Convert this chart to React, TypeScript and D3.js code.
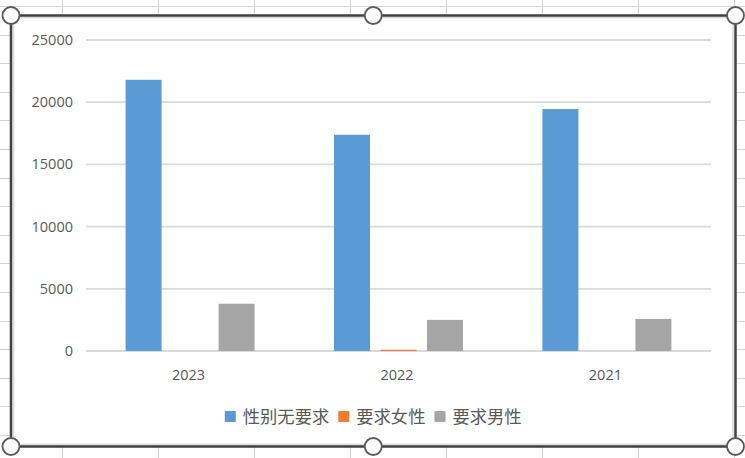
import React from "react";
import * as d3 from "d3";

const categories = ["2023", "2022", "2021"];
const seriesNames = ["性别无要求", "要求女性", "要求男性"];
const noRequirement = [21800, 17380, 19450];
const femaleRequired = [0, 100, 0];
const maleRequired = [3800, 2500, 2580];
const yTicks = [0, 5000, 10000, 15000, 20000, 25000];
const colors = ["#5B9BD5", "#ED7D31", "#A5A5A5"];

const W = 745;
const H = 458;

export default function App() {
  const series = [noRequirement, femaleRequired, maleRequired];
  const plot = { left: 86, right: 711, top: 40, bottom: 351 };

  const x0 = d3
    .scaleBand<string>()
    .domain(categories)
    .range([plot.left, plot.right])
    .paddingInner(0.381)
    .paddingOuter(0.19);
  const x1 = d3
    .scaleBand<string>()
    .domain(seriesNames)
    .range([0, x0.bandwidth()])
    .paddingInner(0.226)
    .paddingOuter(0);
  const y = d3.scaleLinear().domain([0, 25000]).range([plot.bottom, plot.top]);

  // spreadsheet background grid (decoration)
  const colLines = d3.range(-34, W, 96);
  const rowLines = d3.range(6, H, 28.6);

  const frame = { x: 11, y: 15.5, x2: 735.5, y2: 446.5 };
  const handles: [number, number][] = [
    [frame.x, frame.y],
    [(frame.x + frame.x2) / 2, frame.y],
    [frame.x2, frame.y],
    [frame.x, frame.y2],
    [(frame.x + frame.x2) / 2, frame.y2],
    [frame.x2, frame.y2],
  ];

  // legend layout
  const legendFont = 17.3;
  const sq = 11;
  const gapSqText = 7;
  const gapItems = 9;
  const itemWidths = seriesNames.map((n) => sq + gapSqText + n.length * legendFont);
  const totalLegend = d3.sum(itemWidths) + gapItems * (seriesNames.length - 1);
  let lx = (frame.x + frame.x2) / 2 - totalLegend / 2;
  const legendItems = seriesNames.map((n, i) => {
    const item = { name: n, x: lx, color: colors[i] };
    lx += itemWidths[i] + gapItems;
    return item;
  });
  const legendY = 416.5;

  const numFont = "'Open Sans', 'Liberation Sans', sans-serif";
  const cjkFont = "'Noto Sans CJK SC', sans-serif";

  return (
    <svg
      width={W}
      height={H}
      style={{ position: "fixed", left: 0, top: 0, background: "#fff" }}
    >
      <rect x={0} y={0} width={W} height={H} fill="#ffffff" />
      <g stroke="#d4d4d4" strokeWidth={1}>
        {colLines.map((cx) => (
          <line key={"c" + cx} x1={cx + 0.5} x2={cx + 0.5} y1={0} y2={H} />
        ))}
        {rowLines.map((ry) => (
          <line key={"r" + ry} x1={0} x2={W} y1={Math.round(ry) + 0.5} y2={Math.round(ry) + 0.5} />
        ))}
      </g>

      {/* chart area */}
      <rect
        x={frame.x}
        y={frame.y}
        width={frame.x2 - frame.x}
        height={frame.y2 - frame.y}
        fill="#ffffff"
      />
      <rect
        x={frame.x + 2.5}
        y={frame.y + 2}
        width={frame.x2 - frame.x - 5}
        height={frame.y2 - frame.y - 4}
        fill="none"
        stroke="#d9d9d9"
        strokeWidth={1.5}
      />

      {/* gridlines */}
      <g>
        {yTicks.map((t) => (
          <line
            key={t}
            x1={plot.left}
            x2={plot.right}
            y1={y(t)}
            y2={y(t)}
            stroke="#d9d9d9"
            strokeWidth={1.8}
          />
        ))}
      </g>

      {/* y tick labels */}
      <g fontFamily={numFont} fontSize={14.5} fill="#595959" textAnchor="end">
        {yTicks.map((t) => (
          <text key={t} x={73} y={y(t) + 5}>
            {t}
          </text>
        ))}
      </g>

      {/* bars */}
      <g>
        {categories.map((c, ci) => (
          <g key={c} transform={`translate(${x0(c)},0)`}>
            {series.map((s, si) => {
              const v = s[ci];
              const top = y(v);
              return (
                <rect
                  key={si}
                  x={x1(seriesNames[si])}
                  y={top}
                  width={x1.bandwidth()}
                  height={Math.max(0, y(0) - top)}
                  fill={colors[si]}
                />
              );
            })}
          </g>
        ))}
      </g>

      {/* x labels */}
      <g fontFamily={numFont} fontSize={14.5} fill="#595959" textAnchor="middle">
        {categories.map((c) => (
          <text key={c} x={(x0(c) as number) + x0.bandwidth() / 2 - 1.5} y={380}>
            {c}
          </text>
        ))}
      </g>

      {/* legend */}
      <g>
        {legendItems.map((it) => (
          <g key={it.name}>
            <rect x={it.x} y={legendY - 5.5} width={sq} height={sq} fill={it.color} />
            <text
              x={it.x + sq + gapSqText}
              y={legendY + 6}
              fontFamily={cjkFont}
              fontSize={legendFont}
              fill="#595959"
            >
              {it.name}
            </text>
          </g>
        ))}
      </g>

      {/* selection frame */}
      <rect
        x={frame.x}
        y={frame.y}
        width={frame.x2 - frame.x}
        height={frame.y2 - frame.y}
        fill="none"
        stroke="#404040"
        strokeWidth={2.5}
      />
      {handles.map(([hx, hy], i) => (
        <circle key={i} cx={hx} cy={hy} r={8.5} fill="#ffffff" stroke="#5a5a5a" strokeWidth={1.8} />
      ))}
    </svg>
  );
}
